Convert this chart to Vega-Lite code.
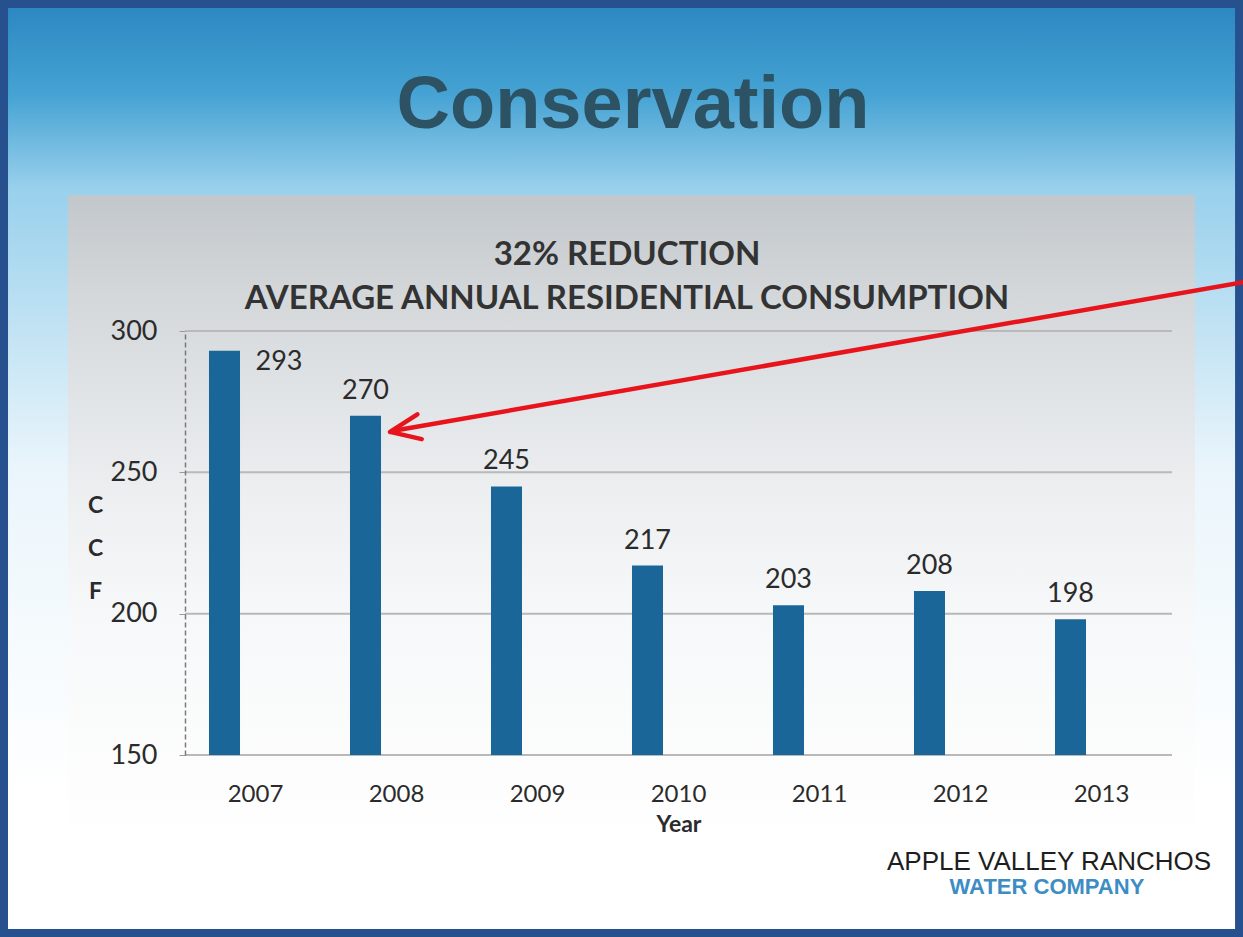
{
  "$schema": "https://vega.github.io/schema/vega-lite/v6.json",
  "width": 987,
  "height": 424,
  "autosize": {"type": "none"},
  "padding": {"left": 185, "top": 331, "right": 71, "bottom": 182},
  "background": "#ffffff",
  "config": {
    "font": "Lato",
    "view": {"stroke": null},
    "axis": {"grid": false, "labelFont": "Lato", "labelColor": "#2b2b2b", "titleFont": "Lato", "titleColor": "#2b2b2b"},
    "axisY": {
      "labelFontSize": 27,
      "labelPadding": 22,
      "tickSize": 6,
      "tickColor": "#9a9a9a",
      "domainColor": "#7a7a7a",
      "domainDash": [5, 3],
      "domainWidth": 1.5,
      "titleAngle": 0,
      "titleAlign": "center",
      "titleBaseline": "middle",
      "titleX": -90,
      "titleY": 174,
      "titleFontSize": 23,
      "titleFontWeight": "bold",
      "titleLineHeight": 43
    },
    "axisX": {
      "labelFontSize": 24,
      "labelBaseline": "middle",
      "labelAngle": 0,
      "labelPadding": 39,
      "ticks": false,
      "tickSize": 0,
      "domain": false,
      "titleFontSize": 23,
      "titleFontWeight": "bold",
      "titleX": 493.5,
      "titleY": 69,
      "titleBaseline": "middle"
    }
  },
  "resolve": {"scale": {"x": "independent"}},
  "layer": [
    {
      "data": {"values": [{}]},
      "mark": {
        "type": "rect",
        "stroke": "#27508f",
        "strokeWidth": 16,
        "fill": {
          "gradient": "linear", "x1": 0, "y1": 0, "x2": 0, "y2": 1,
          "stops": [
            {"offset": 0, "color": "#2a86bf"},
            {"offset": 0.1, "color": "#45a2d3"},
            {"offset": 0.2, "color": "#98d0ec"},
            {"offset": 0.5, "color": "#eaf5fb"},
            {"offset": 0.85, "color": "#ffffff"},
            {"offset": 1, "color": "#ffffff"}
          ]
        }
      },
      "encoding": {
        "x": {"datum": -1.312, "type": "quantitative", "scale": {"domain": [0, 7], "nice": false, "zero": false}, "axis": null},
        "x2": {"datum": 7.504},
        "y": {"datum": 417.1, "type": "quantitative", "scale": {"domain": [150, 300], "nice": false, "zero": false}},
        "y2": {"datum": 85.6}
      }
    },
    {
      "data": {"values": [{}]},
      "mark": {
        "type": "rect",
        "fill": {
          "gradient": "linear", "x1": 0, "y1": 0, "x2": 0, "y2": 1,
          "stops": [
            {"offset": 0, "color": "#c2c7cb"},
            {"offset": 0.15, "color": "#d3d7da"},
            {"offset": 0.3, "color": "#e0e3e6"},
            {"offset": 0.45, "color": "#eceef0"},
            {"offset": 0.65, "color": "#f7f8f9"},
            {"offset": 1, "color": "#ffffff"}
          ]
        }
      },
      "encoding": {
        "x": {"datum": -0.83, "type": "quantitative", "scale": {"domain": [0, 7], "nice": false, "zero": false}, "axis": null},
        "x2": {"datum": 7.163},
        "y": {"datum": 348.1, "type": "quantitative", "scale": {"domain": [150, 300], "nice": false, "zero": false}},
        "y2": {"datum": 118.2}
      }
    },
    {
      "data": {"values": [{"value": 150}, {"value": 200}, {"value": 250}, {"value": 300}]},
      "mark": {"type": "rule", "color": "#b9b9b9", "strokeWidth": 2},
      "encoding": {
        "y": {"field": "value", "type": "quantitative", "scale": {"domain": [150, 300], "nice": false, "zero": false}}
      }
    },
    {
      "data": {
        "values": [
          {"year": "2007", "value": 293},
          {"year": "2008", "value": 270},
          {"year": "2009", "value": 245},
          {"year": "2010", "value": 217},
          {"year": "2011", "value": 203},
          {"year": "2012", "value": 208},
          {"year": "2013", "value": 198}
        ]
      },
      "encoding": {
        "x": {"field": "year", "type": "ordinal", "scale": {"paddingInner": 0, "paddingOuter": 0}, "axis": {"title": "Year", "zindex": 2}}
      },
      "layer": [
        {
          "mark": {"type": "bar", "color": "#1b6699", "width": {"band": 0.22}, "xOffset": -31},
          "encoding": {
            "y": {"field": "value", "type": "quantitative", "scale": {"domain": [150, 300], "nice": false, "zero": false}, "axis": {"title": ["C", "C", "F"], "values": [150, 200, 250, 300], "zindex": 2}},
            "y2": {"datum": 150}
          }
        },
        {
          "transform": [{"filter": "datum.year != '2007'"}],
          "mark": {"type": "text", "baseline": "bottom", "dy": -11, "xOffset": -31, "fontSize": 27, "font": "Lato", "color": "#2b2b2b"},
          "encoding": {
            "y": {"field": "value", "type": "quantitative", "scale": {"domain": [150, 300], "nice": false, "zero": false}},
            "text": {"field": "value", "type": "quantitative"}
          }
        },
        {
          "transform": [{"filter": "datum.year == '2007'"}],
          "mark": {"type": "text", "baseline": "middle", "align": "left", "dy": 11, "fontSize": 27, "font": "Lato", "color": "#2b2b2b"},
          "encoding": {
            "y": {"field": "value", "type": "quantitative", "scale": {"domain": [150, 300], "nice": false, "zero": false}},
            "text": {"field": "value", "type": "quantitative"}
          }
        }
      ]
    },
    {
      "data": {"values": [{}]},
      "mark": {"type": "text", "text": "Conservation", "font": "Liberation Sans", "fontSize": 74, "fontWeight": "bold", "color": "#2c5263", "baseline": "alphabetic", "align": "center"},
      "encoding": {
        "x": {"datum": 3.177, "type": "quantitative", "scale": {"domain": [0, 7], "nice": false, "zero": false}, "axis": null},
        "y": {"datum": 371.8, "type": "quantitative", "scale": {"domain": [150, 300], "nice": false, "zero": false}}
      }
    },
    {
      "data": {"values": [{}]},
      "mark": {"type": "text", "text": "32% REDUCTION", "font": "Lato", "fontSize": 33, "fontWeight": "bold", "color": "#333333", "baseline": "alphabetic", "align": "center"},
      "encoding": {
        "x": {"datum": 3.135, "type": "quantitative", "scale": {"domain": [0, 7], "nice": false, "zero": false}, "axis": null},
        "y": {"datum": 323.3, "type": "quantitative", "scale": {"domain": [150, 300], "nice": false, "zero": false}}
      }
    },
    {
      "data": {"values": [{}]},
      "mark": {"type": "text", "text": "AVERAGE ANNUAL RESIDENTIAL  CONSUMPTION", "font": "Lato", "fontSize": 33, "fontWeight": "bold", "color": "#333333", "baseline": "alphabetic", "align": "center"},
      "encoding": {
        "x": {"datum": 3.135, "type": "quantitative", "scale": {"domain": [0, 7], "nice": false, "zero": false}, "axis": null},
        "y": {"datum": 307.8, "type": "quantitative", "scale": {"domain": [150, 300], "nice": false, "zero": false}}
      }
    },
    {
      "data": {"values": [{}]},
      "mark": {"type": "rule", "color": "#e8141c", "strokeWidth": 4.5, "strokeCap": "round"},
      "encoding": {
        "x": {"datum": 7.553, "type": "quantitative", "scale": {"domain": [0, 7], "nice": false, "zero": false}, "axis": null},
        "x2": {"datum": 1.47},
        "y": {"datum": 317.7, "type": "quantitative", "scale": {"domain": [150, 300], "nice": false, "zero": false}},
        "y2": {"datum": 264.6}
      }
    },
    {
      "data": {"values": [{}]},
      "mark": {"type": "point", "shape": "M0,0L1,-0.42M0,0L1,0.42", "size": 3600, "filled": false, "stroke": "#e8141c", "strokeWidth": 4.5, "strokeCap": "round", "angle": 350, "opacity": 1},
      "encoding": {
        "x": {"datum": 1.454, "type": "quantitative", "scale": {"domain": [0, 7], "nice": false, "zero": false}, "axis": null},
        "y": {"datum": 264.3, "type": "quantitative", "scale": {"domain": [150, 300], "nice": false, "zero": false}}
      }
    },
    {
      "data": {"values": [{}]},
      "mark": {"type": "text", "text": "APPLE VALLEY RANCHOS", "font": "Liberation Sans", "fontSize": 26, "letterSpacing": -1, "color": "#1e1e1e", "baseline": "middle", "align": "center"},
      "encoding": {
        "x": {"datum": 6.128, "type": "quantitative", "scale": {"domain": [0, 7], "nice": false, "zero": false}, "axis": null},
        "y": {"datum": 112.1, "type": "quantitative", "scale": {"domain": [150, 300], "nice": false, "zero": false}}
      }
    },
    {
      "data": {"values": [{}]},
      "mark": {"type": "text", "text": "WATER COMPANY", "font": "Liberation Sans", "fontSize": 22, "fontWeight": "bold", "color": "#3d8dc4", "baseline": "middle", "align": "center"},
      "encoding": {
        "x": {"datum": 6.113, "type": "quantitative", "scale": {"domain": [0, 7], "nice": false, "zero": false}, "axis": null},
        "y": {"datum": 103.3, "type": "quantitative", "scale": {"domain": [150, 300], "nice": false, "zero": false}}
      }
    }
  ]
}
